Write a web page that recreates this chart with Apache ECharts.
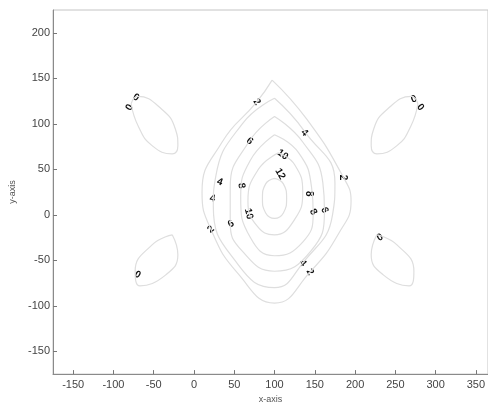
<!DOCTYPE html>
<html><head><meta charset="utf-8">
<script src="https://cdn.jsdelivr.net/npm/echarts@6/dist/echarts.min.js"></script>
<style>html,body{margin:0;padding:0;background:#fff}#c{width:488px;height:409px}</style>
</head><body><div id="c"></div>
<script>
// Axis tick values
const xTicks = [-150, -100, -50, 0, 50, 100, 150, 200, 250, 300, 350];
const yTicks = [-150, -100, -50, 0, 50, 100, 150, 200];

// Contour lines (data coords), closed curves
const c12 = [[100,40],[111,34],[115,18],[111,2],[100,-4],[89,2],[85,18],[89,34],[100,40]];
const c10 = [[105,68],[125,55],[135,25],[125,-5],[100,-22],[78,-12],[67,15],[80,50],[105,68]];
const c8  = [[100,88],[130,68],[146,30],[148,2],[135,-30],[100,-45],[70,-25],[58,20],[70,60],[100,88]];
const c6  = [[100,108],[135,80],[160,35],[162,5],[145,-40],[100,-62],[60,-40],[45,-8],[45,30],[68,80],[100,108]];
const c4  = [[100,128],[137,92],[175,35],[172,0],[135,-53],[100,-80],[55,-55],[24,10],[27,42],[60,100],[100,128]];
const c2  = [[97,148],[140,105],[185,42],[195,15],[180,-20],[144,-63],[100,-97],[55,-65],[21,-16],[10,25],[35,80],[78,124],[97,148]];
const c0UL = [[-78,122],[-70,130],[-40,116],[-23,94],[-20,76],[-27,67],[-52,76],[-69,97],[-78,122]];
const c0UR = [[278,122],[270,130],[240,116],[223,94],[220,76],[227,67],[252,76],[269,97],[278,122]];
const c0LL = [[-27,-22],[-20,-44],[-35,-66],[-67,-78],[-73,-62],[-52,-33],[-27,-22]];
const c0LR = [[227,-22],[220,-44],[235,-66],[267,-78],[273,-62],[252,-33],[227,-22]];
const contours = [c12, c10, c8, c6, c4, c2, c0UL, c0UR, c0LL, c0LR];

// Contour level labels
const labelX    = [-72, -80, 273, 281, -70, 231, 78, 69, 137, 110, 107, 185, 32, 59, 23, 143, 68, 148, 162, 46, 21, 135, 144];
const labelY    = [129, 118, 127, 118, -66, -25, 124, 81, 90, 66, 45, 41, 36, 32, 18, 23, 1, 3, 5, -10, -16, -53, -63];
const labelText = ['0','0','0','0','0','0','2','6','4','10','12','2','4','8','4','8','10','8','6','6','2','4','2'];
const labelRot  = [-30, 60, 20, -50, -30, 30, -55, -40, -45, -35, -60, -90, -20, -80, -10, -90, -75, -60, -70, 30, 40, -50, -60];

const chart = echarts.init(document.getElementById('c'));
const series = contours.map(c => ({
  type: 'line', data: c, smooth: 0.5, symbol: 'none', silent: true,
  lineStyle: { color: '#dedede', width: 1.2 }
}));
series.push({
  type: 'custom',
  data: labelX.map((x, i) => [x, labelY[i], i]),
  renderItem: function (params, api) {
    const i = api.value(2);
    const p = api.coord([api.value(0), api.value(1)]);
    return {
      type: 'text', x: p[0], y: p[1], rotation: labelRot[i] * Math.PI / 180,
      style: { text: labelText[i], fill: '#111', font: 'bold 10px "Liberation Sans", Arial', align: 'center', verticalAlign: 'middle' }
    };
  }
});
const axisCommon = {
  axisLine: { show: true, onZero: false, lineStyle: { color: '#8a8a8a', width: 1 } },
  axisTick: { show: true, inside: true, length: 4, lineStyle: { color: '#777' } },
  splitLine: { show: false }
};
chart.setOption({
  animation: false,
  backgroundColor: '#fff',
  grid: { left: 48, top: 10, width: 440, height: 369, show: true, borderColor: '#c4c4c4', borderWidth: 1 },
  xAxis: [Object.assign({}, axisCommon, {
    type: 'value', min: -175, max: 365, position: 'bottom',
    name: 'x-axis', nameLocation: 'middle', nameGap: 17,
    nameTextStyle: { color: '#555', fontSize: 9, fontFamily: 'Liberation Sans', align: 'center' },
    axisTick: Object.assign({}, axisCommon.axisTick, { customValues: xTicks }),
    axisLabel: { customValues: xTicks, color: '#444', fontSize: 11, fontFamily: 'Liberation Sans', margin: 5 }
  })],
  yAxis: [Object.assign({}, axisCommon, {
    type: 'value', min: -175, max: 225,
    name: 'y-axis', nameLocation: 'middle', nameGap: 36, nameRotate: 90,
    nameTextStyle: { color: '#555', fontSize: 9, fontFamily: 'Liberation Sans' },
    axisTick: Object.assign({}, axisCommon.axisTick, { customValues: yTicks }),
    axisLabel: { customValues: yTicks, color: '#444', fontSize: 11, fontFamily: 'Liberation Sans', margin: 3 }
  })],
  series: series
});
</script></body></html>
